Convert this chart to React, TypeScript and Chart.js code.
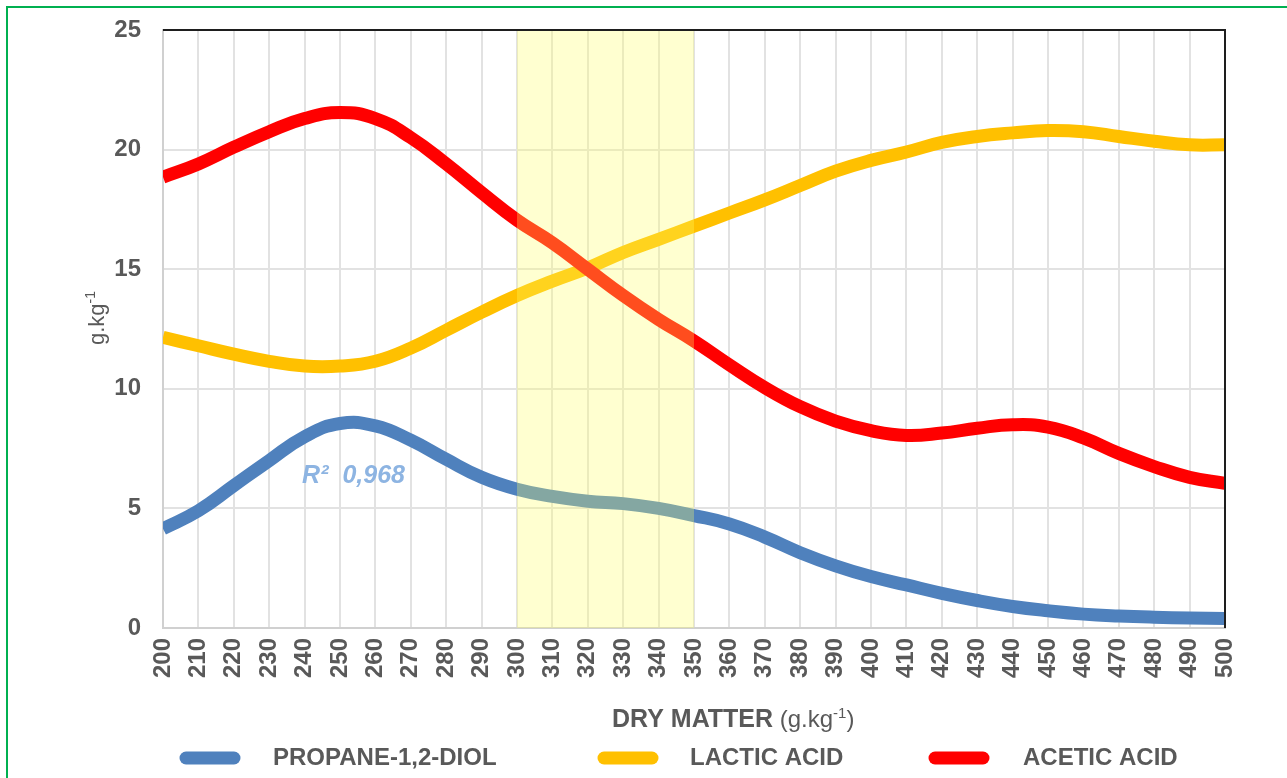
import React, { useEffect, useRef } from 'react';
import { Chart, registerables } from 'chart.js';

Chart.register(...registerables);

const dryMatter = [200, 210, 220, 230, 240, 250, 260, 270, 280, 290, 300, 310, 320, 330, 340, 350, 360, 370, 380, 390, 400, 410, 420, 430, 440, 450, 460, 470, 480, 490, 500];
const propanediol = [4.15, 4.9, 5.95, 7.0, 8.0, 8.55, 8.45, 7.85, 7.05, 6.3, 5.8, 5.5, 5.3, 5.2, 5.0, 4.7, 4.35, 3.8, 3.15, 2.6, 2.15, 1.8, 1.45, 1.15, 0.9, 0.72, 0.58, 0.5, 0.45, 0.42, 0.4];
const lacticAcid = [12.15, 11.8, 11.45, 11.15, 10.95, 10.95, 11.15, 11.7, 12.45, 13.2, 13.9, 14.5, 15.05, 15.7, 16.25, 16.8, 17.35, 17.9, 18.5, 19.1, 19.55, 19.9, 20.3, 20.55, 20.7, 20.8, 20.75, 20.55, 20.35, 20.2, 20.2];
const aceticAcid = [18.85, 19.4, 20.1, 20.75, 21.3, 21.55, 21.3, 20.5, 19.4, 18.2, 17.05, 16.1, 15.0, 13.9, 12.9, 12.0, 11.0, 10.05, 9.25, 8.65, 8.25, 8.05, 8.15, 8.35, 8.5, 8.4, 7.95, 7.3, 6.75, 6.3, 6.05];

const seriesLabels = ['PROPANE-1,2-DIOL', 'LACTIC ACID', 'ACETIC ACID'];
const seriesColors = ['#4f81bd', '#ffc000', '#ff0000'];

const highlightBand = [300, 350];
const r2Text = 'R\u00B2  0,968';
const r2Anchor = [239.3, 6.35];

const xTitleBold = 'DRY MATTER';
const unitBase = 'g.kg';
const unitSup = '-1';

const TEXT = '#595959';
const FONT = '"Liberation Sans", Arial, sans-serif';

function drawRich(ctx: CanvasRenderingContext2D, parts: { t: string; font: string; dy: number }[], x: number, y: number) {
  let cx = x;
  for (const p of parts) {
    ctx.font = p.font;
    ctx.fillText(p.t, cx, y + p.dy);
    cx += ctx.measureText(p.t).width;
  }
}

const decorPlugin = {
  id: 'decor',
  afterDatasetsDraw(chart: any) {
    const { ctx, chartArea: a, scales } = chart;
    const x = scales.x, y = scales.y;
    ctx.save();
    const x0 = x.getPixelForValue(highlightBand[0]);
    const x1 = x.getPixelForValue(highlightBand[1]);
    ctx.fillStyle = 'rgba(255,255,100,0.3)';
    ctx.fillRect(x0, a.top, x1 - x0, a.bottom - a.top);
    ctx.strokeStyle = '#1e1e1e';
    ctx.lineWidth = 2;
    ctx.beginPath();
    ctx.moveTo(a.left, a.top);
    ctx.lineTo(a.right, a.top);
    ctx.lineTo(a.right, a.bottom);
    ctx.stroke();
    ctx.fillStyle = '#8db4e2';
    ctx.font = `italic bold 25px ${FONT}`;
    ctx.textBaseline = 'middle';
    ctx.textAlign = 'left';
    ctx.fillText(r2Text, x.getPixelForValue(r2Anchor[0]), y.getPixelForValue(r2Anchor[1]));
    ctx.restore();
  },
  afterDraw(chart: any) {
    const { ctx } = chart;
    ctx.save();
    ctx.fillStyle = TEXT;
    ctx.textBaseline = 'alphabetic';
    ctx.textAlign = 'left';
    drawRich(ctx, [
      { t: xTitleBold, font: `bold 25px ${FONT}`, dy: 0 },
      { t: ' (' + unitBase, font: `24px ${FONT}`, dy: 0 },
      { t: unitSup, font: `15px ${FONT}`, dy: -9 },
      { t: ')', font: `24px ${FONT}`, dy: 0 },
    ], 612, 727);
    ctx.save();
    ctx.translate(104, 318);
    ctx.rotate(-Math.PI / 2);
    ctx.font = `22px ${FONT}`;
    const w1 = ctx.measureText(unitBase).width;
    ctx.font = `14px ${FONT}`;
    const w2 = ctx.measureText(unitSup).width;
    drawRich(ctx, [
      { t: unitBase, font: `22px ${FONT}`, dy: 0 },
      { t: unitSup, font: `14px ${FONT}`, dy: -9 },
    ], -(w1 + w2) / 2, 0);
    ctx.restore();
    const sampleX = [180, 598, 929];
    const textX = [273, 690, 1023];
    const ly = 758;
    chart.data.datasets.forEach((ds: any, i: number) => {
      ctx.strokeStyle = ds.borderColor;
      ctx.lineWidth = 13;
      ctx.lineCap = 'round';
      ctx.beginPath();
      ctx.moveTo(sampleX[i] + 6, ly);
      ctx.lineTo(sampleX[i] + 54, ly);
      ctx.stroke();
      ctx.fillStyle = TEXT;
      ctx.font = `bold 24px ${FONT}`;
      ctx.textBaseline = 'middle';
      ctx.fillText(ds.label, textX[i], ly);
    });
    ctx.restore();
  },
};

export default function App() {
  const ref = useRef<HTMLCanvasElement | null>(null);
  useEffect(() => {
    if (!ref.current) return;
    const series = [propanediol, lacticAcid, aceticAcid];
    const chart = new Chart(ref.current, {
      type: 'line',
      data: {
        datasets: series.map((vals, i) => ({
          label: seriesLabels[i],
          data: dryMatter.map((xv, j) => ({ x: xv, y: vals[j] })),
          borderColor: seriesColors[i],
          backgroundColor: seriesColors[i],
          borderWidth: 13,
          pointRadius: 0,
          tension: 0.45,
          fill: false,
          clip: 0,
          order: 2 - i,
        })),
      },
      options: {
        responsive: false,
        animation: false,
        layout: { padding: { left: 0, top: 30, right: 62, bottom: 0 } },
        plugins: { legend: { display: false }, tooltip: { enabled: false } },
        scales: {
          x: {
            type: 'linear',
            min: 200,
            max: 500,
            afterFit: (s: any) => { s.height = 150; s.paddingLeft = 0; s.paddingRight = 0; },
            ticks: {
              stepSize: 10,
              autoSkip: false,
              minRotation: 90,
              maxRotation: 90,
              padding: 10,
              color: TEXT,
              font: { family: FONT, size: 24, weight: 'bold' },
            },
            grid: { color: '#e2e2e2', lineWidth: 2, drawTicks: false },
            border: { display: true, color: '#d0d0d0', width: 2 },
          },
          y: {
            min: 0,
            max: 25,
            afterFit: (s: any) => { s.width = 163; s.paddingTop = 0; s.paddingBottom = 0; },
            ticks: {
              stepSize: 5,
              padding: 22,
              color: TEXT,
              font: { family: FONT, size: 24, weight: 'bold' },
            },
            grid: { color: '#e2e2e2', lineWidth: 2, drawTicks: false },
            border: { display: true, color: '#d0d0d0', width: 2 },
          },
        },
      },
      plugins: [decorPlugin],
    });
    return () => chart.destroy();
  }, []);

  return (
    <div style={{ position: 'fixed', left: 0, top: 0, width: 1287, height: 778, overflow: 'hidden', background: '#fff' }}>
      <div style={{ position: 'absolute', left: 6, top: 6, width: 1300, height: 800, border: '2px solid #00b050', boxSizing: 'border-box' }} />
      <canvas ref={ref} width={1287} height={778} style={{ position: 'absolute', left: 0, top: 0, width: 1287, height: 778 }} />
    </div>
  );
}
